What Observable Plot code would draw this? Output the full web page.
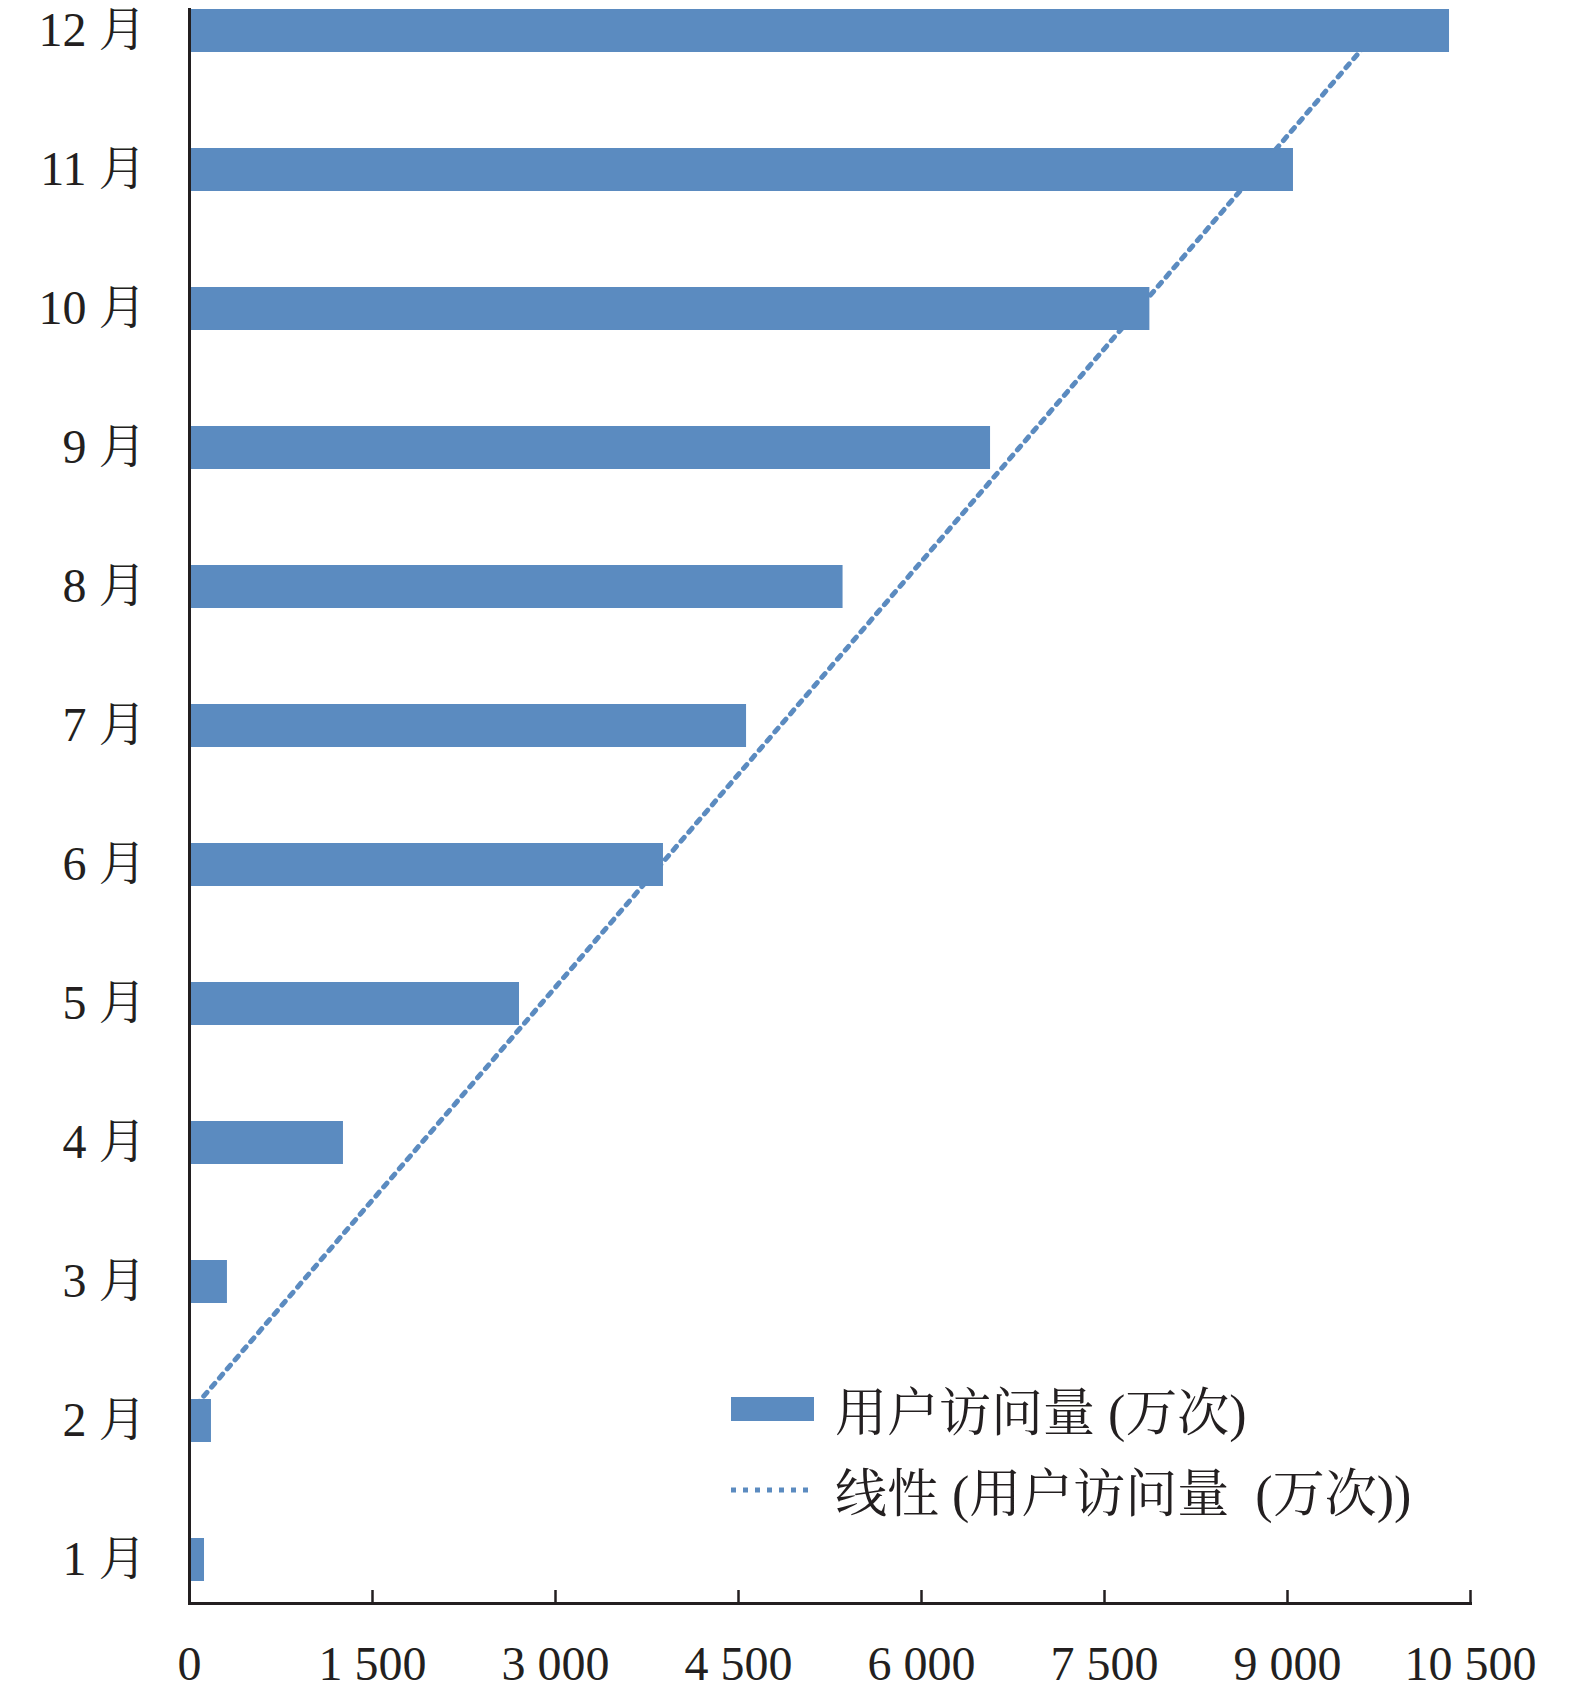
<!DOCTYPE html>
<html>
<head>
<meta charset="utf-8">
<script src="https://cdn.jsdelivr.net/npm/d3@7"></script>
<script src="https://cdn.jsdelivr.net/npm/@observablehq/plot@0.6"></script>
<style>
  html, body { margin: 0; padding: 0; background: #fff; }
  #wrap { position: relative; width: 1575px; height: 1696px; }
  #legend { position: absolute; left: 731px; top: 1368px; font-family: "Liberation Serif", "Noto Serif CJK SC", "Noto Sans CJK SC", serif; font-size: 52px; color: #231f20; white-space: nowrap; }
  .row { display: flex; align-items: center; height: 81px; }
  .row svg { width: 83px; height: 24px; margin-right: 21px; flex: none; }
</style>
</head>
<body>
<div id="wrap"><div id="chart"></div>
<div id="legend">
  <div class="row"><svg viewBox="0 0 83 24"><rect x="0" y="0" width="83" height="24" fill="#5b8bc0"/></svg><span>用户访问量 (万次)</span></div>
  <div class="row"><svg viewBox="0 0 83 24"><line x1="0" y1="12" x2="83" y2="12" stroke="#5b8bc0" stroke-width="5" stroke-dasharray="5 7"/></svg><span>线性 (用户访问量&nbsp; (万次))</span></div>
</div>
</div>
<script>
const months = ["1 月","2 月","3 月","4 月","5 月","6 月","7 月","8 月","9 月","10 月","11 月","12 月"];
const visits = [123, 180, 311, 1262, 2705, 3885, 4566, 5357, 6566, 7872, 9049, 10328];
const xTicks = [0, 1500, 3000, 4500, 6000, 7500, 9000, 10500];

const data = months.map((m, i) => ({month: m, value: visits[i]}));

// linear trend (least squares over month index)
const idx = months.map((_, i) => i + 1);
const mx = d3.mean(idx), my = d3.mean(visits);
const slope = d3.sum(idx, (x, i) => (x - mx) * (visits[i] - my)) / d3.sum(idx, x => (x - mx) ** 2);
const intercept = my - slope * mx;
const trend = months.map((m, i) => ({month: m, value: intercept + slope * idx[i]}));

const fmt = d => String(d).replace(/\B(?=(\d{3})+(?!\d))/g, " ");
const ink = "#231f20";
const blue = "#5b8bc0";

const chart = Plot.plot({
  width: 1575,
  height: 1696,
  marginLeft: 189,
  marginRight: 105,
  marginTop: 8,
  marginBottom: 93,
  style: {fontFamily: "'Liberation Serif', 'Noto Serif CJK SC', 'Noto Sans CJK SC', serif", fontSize: "48px", color: ink, background: "#fff"},
  x: {domain: [0, 10500], axis: null},
  y: {domain: months.slice().reverse(), range: [8, 1582.5], paddingInner: 0.69, paddingOuter: 0, axis: null},
  marks: [
    Plot.line(trend, {x: "value", y: "month", stroke: blue, strokeWidth: 5, strokeDasharray: "5 7", clip: true}),
    Plot.barX(data, {x: "value", y: "month", fill: blue}),
    Plot.ruleX([0], {stroke: ink, strokeWidth: 3}),
    Plot.frame({anchor: "bottom", stroke: ink, strokeWidth: 3}),
    Plot.tickX(xTicks.slice(1), {x: d => d, stroke: ink, strokeWidth: 2.5, insetTop: 1582}),
    Plot.axisX({ticks: xTicks, tickSize: 0, tickPadding: 42, tickFormat: fmt, fill: ink, fontSize: 48, label: null}),
    Plot.axisY({tickSize: 0, tickPadding: 43, fill: ink, fontSize: 48, label: null})
  ]
});
document.getElementById("chart").appendChild(chart);
</script>
</body>
</html>
